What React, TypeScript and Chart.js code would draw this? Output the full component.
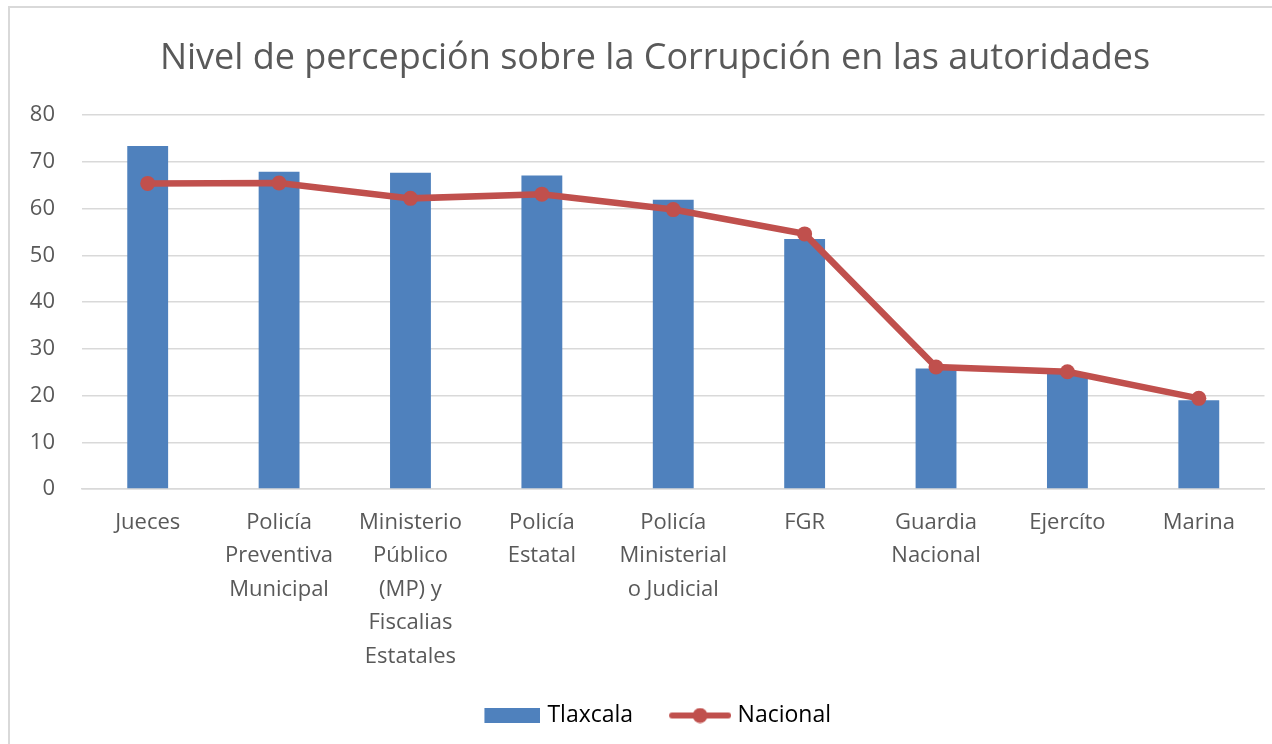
import React, { useEffect, useRef } from "react";
import { Chart, registerables } from "chart.js";

Chart.register(...registerables);

const categories: (string | string[])[] = [
  "Jueces",
  ["Policía", "Preventiva", "Municipal"],
  ["Ministerio", "Público", "(MP) y", "Fiscalias", "Estatales"],
  ["Policía", "Estatal"],
  ["Policía", "Ministerial", "o Judicial"],
  "FGR",
  ["Guardia", "Nacional"],
  "Ejercíto",
  "Marina",
];

const tlaxcala = [73.4, 67.9, 67.7, 67.1, 61.9, 53.5, 25.8, 24.7, 19.0];
const nacional = [65.4, 65.5, 62.2, 63.1, 59.8, 54.6, 26.1, 25.1, 19.4];

const seriesNames = ["Tlaxcala", "Nacional"];
const titleText = "Nivel de percepción sobre la Corrupción en las autoridades";

const BLUE = "#4F81BD";
const RED = "#C0504D";
const TEXT = "#595959";
const GRID = "#d9d9d9";
const FONT = "'Open Sans', sans-serif";

function makeBarIcon(): HTMLCanvasElement {
  const w = 102;
  const c = document.createElement("canvas");
  c.width = w;
  c.height = 15;
  const ctx = c.getContext("2d")!;
  ctx.fillStyle = BLUE;
  ctx.fillRect(w - 56, 0, 56, 15);
  return c;
}

function makeLineIcon(): HTMLCanvasElement {
  const w = 103;
  const c = document.createElement("canvas");
  c.width = w;
  c.height = 16;
  const ctx = c.getContext("2d")!;
  ctx.strokeStyle = RED;
  ctx.lineWidth = 6;
  ctx.lineCap = "round";
  ctx.beginPath();
  ctx.moveTo(w - 59, 8);
  ctx.lineTo(w - 3, 8);
  ctx.stroke();
  ctx.fillStyle = RED;
  ctx.beginPath();
  ctx.arc(w - 31, 8, 7.5, 0, Math.PI * 2);
  ctx.fill();
  return c;
}

const shiftPlugin = {
  id: "shiftBlocks",
  afterLayout(chart: any) {
    const t = chart.titleBlock;
    if (t) {
      t.left += 42;
    }
    const l = chart.legend;
    if (l) {
      l.left += 3;
      l.right += 3;
    }
  },
};

export default function App() {
  const ref = useRef<HTMLCanvasElement | null>(null);

  useEffect(() => {
    if (!ref.current) return;
    const barIcon = makeBarIcon();
    const lineIcon = makeLineIcon();
    const chart = new Chart(ref.current, {
      type: "bar",
      data: {
        labels: categories,
        datasets: [
          {
            type: "line",
            label: seriesNames[1],
            data: nacional,
            borderColor: RED,
            backgroundColor: RED,
            borderWidth: 6.5,
            pointRadius: 7.5,
            pointHoverRadius: 7.5,
            pointBackgroundColor: RED,
            pointBorderWidth: 0,
            tension: 0,
            order: 0,
          },
          {
            type: "bar",
            label: seriesNames[0],
            data: tlaxcala,
            backgroundColor: BLUE,
            borderWidth: 0,
            categoryPercentage: 1,
            barPercentage: 0.311,
            order: 1,
          },
        ],
      },
      options: {
        responsive: false,
        animation: false,
        layout: { padding: { left: 0, right: 4, top: 0, bottom: 7 } },
        plugins: {
          title: {
            display: true,
            text: titleText,
            color: TEXT,
            font: { family: FONT, size: 36, weight: "normal" },
            padding: { top: 37, bottom: 35 },
          },
          legend: {
            position: "bottom",
            labels: {
              color: TEXT,
              font: { family: FONT, size: 23 },
              usePointStyle: true,
              pointStyleWidth: 93,
              padding: 0,
              generateLabels: () => [
                {
                  text: seriesNames[0],
                  fillStyle: BLUE,
                  strokeStyle: BLUE,
                  lineWidth: 0,
                  pointStyle: barIcon,
                  datasetIndex: 1,
                  hidden: false,
                } as any,
                {
                  text: seriesNames[1],
                  fillStyle: RED,
                  strokeStyle: RED,
                  lineWidth: 0,
                  pointStyle: lineIcon,
                  datasetIndex: 0,
                  hidden: false,
                } as any,
              ],
            },
          },
          tooltip: { enabled: false },
        },
        scales: {
          x: {
            grid: { display: false, drawTicks: false },
            border: { display: true, color: GRID, width: 1.5 },
            ticks: {
              color: TEXT,
              font: { family: FONT, size: 22, lineHeight: 1.52 },
              padding: 17,
              maxRotation: 0,
              autoSkip: false,
            },
            afterFit: (scale: any) => {
              scale.height = 215;
            },
          },
          y: {
            min: 0,
            max: 80,
            ticks: {
              stepSize: 10,
              color: TEXT,
              font: { family: FONT, size: 22 },
              padding: 27,
            },
            grid: { color: GRID, lineWidth: 1.5, drawTicks: false },
            border: { display: false },
            afterFit: (scale: any) => {
              scale.width = 82;
            },
          },
        },
      },
      plugins: [shiftPlugin],
    });
    return () => chart.destroy();
  }, []);

  return (
    <div style={{ position: "fixed", left: 0, top: 0, width: 1272, height: 744, background: "#fff" }}>
      <div
        style={{
          position: "absolute",
          left: 8,
          top: 6,
          width: 1300,
          height: 800,
          borderLeft: `2px solid ${GRID}`,
          borderTop: `2px solid ${GRID}`,
        }}
      />
      <canvas
        ref={ref}
        width={1272}
        height={744}
        style={{ position: "absolute", left: 0, top: 0, display: "block" }}
      />
    </div>
  );
}
